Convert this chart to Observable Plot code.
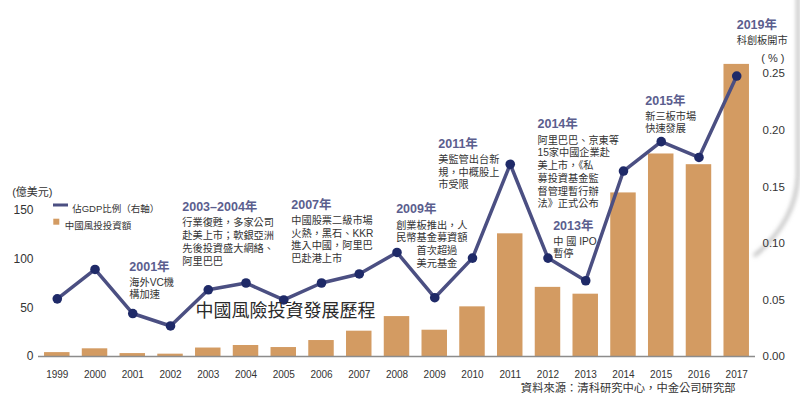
<!DOCTYPE html>
<html><head><meta charset="utf-8">
<script src="https://cdn.jsdelivr.net/npm/d3@7"></script>
<script src="https://cdn.jsdelivr.net/npm/@observablehq/plot@0.6"></script>
<style>
html,body{margin:0;padding:0;background:#fff;}
#chart{width:800px;height:406px;overflow:hidden;}
</style></head><body><div id="chart"></div>
<script>
// ---- data ----
const years = ["1999","2000","2001","2002","2003","2004","2005","2006","2007","2008","2009","2010","2011","2012","2013","2014","2015","2016","2017"];
const investment = [4, 7.9, 3, 2.4, 8.7, 11.3, 9.2, 16.4, 26, 41, 27, 51, 126, 71, 64, 168, 208, 197, 300]; // 億美元
const gdpShare = [0.051, 0.077, 0.038, 0.027, 0.059, 0.065, 0.050, 0.065, 0.073, 0.092, 0.052, 0.087, 0.170, 0.087, 0.067, 0.164, 0.190, 0.176, 0.248]; // %
const leftTicks = [0, 50, 100, 150];
const rightTicks = [0, 0.05, 0.10, 0.15, 0.20, 0.25];

const noteYears = ["2001","2003","2007","2009","2011","2014","2013","2015","2017"];
const noteTitles = ["2001年","2003–2004年","2007年","2009年","2011年","2014年","2013年","2015年","2019年"];
const noteBodies = [
  "海外VC機\n構加速",
  "行業復甦，多家公司\n赴美上市；軟銀亞洲\n先後投資盛大網絡、\n阿里巴巴",
  "中國股票二級市場\n火熱，黑石、KKR\n進入中國，阿里巴\n巴赴港上市",
  "創業板推出，人\n民幣基金募資額\n　　首次超過\n　　美元基金",
  "美監管出台新\n規，中概股上\n市受限",
  "阿里巴巴、京東等\n15家中國企業赴\n美上市，《私\n募投資基金監\n督管理暫行辦\n法》正式公布",
  "中 國 IPO\n暫停",
  "新三板市場\n快速發展",
  "科創板開市"
];
// note anchor heights, in 億美元 (left-axis units)
const noteLevels = [92.4, 153.3, 155.8, 151, 218.4, 238.3, 134.5, 262.9, 340];

const chartTitle = "中國風險投資發展歷程";
const legendLine = "佔GDP比例（右軸）";
const legendBar = "中國風投投資額";
const leftUnit = "(億美元)";
const rightUnit = "( % )";
const source = "資料來源：清科研究中心，中金公司研究部";

// ---- layout / style ----
const LEFT_MAX = 304, RIGHT_MAX = 0.26176, K = LEFT_MAX / RIGHT_MAX;
const noteShift = [-3.5, -26, -68, -38.6, -72, -86, -32.6, -16, 0];
const barColor = "#d39b62", lineColor = "#4b4f82", dotColor = "#1f2a68", titleColor = "#5b5e8e", ink = "#333";
const FONT = "'Liberation Sans', 'Noto Sans CJK TC', sans-serif";

const idx = years.map((_, i) => i);

const noteMarks = noteYears.flatMap((yr, i) => [
  Plot.text([i], {x: () => yr, y: () => noteLevels[i], text: () => noteTitles[i], dx: noteShift[i],
    textAnchor: "start", lineAnchor: "middle", fontSize: 12.5, fontWeight: "bold", fill: titleColor}),
  Plot.text([i], {x: () => yr, y: () => noteLevels[i], text: () => noteBodies[i], dx: noteShift[i], dy: 10,
    textAnchor: "start", lineAnchor: "top", fontSize: 10.2, lineHeight: 1.25, fill: ink})
]);

const legend = (index, scales, values, dims) => {
  const g = d3.create("svg:g");
  const x0 = dims.marginLeft, y0 = dims.marginTop;
  g.append("line").attr("x1", x0 + 15).attr("x2", x0 + 30).attr("y1", y0 + 145).attr("y2", y0 + 145)
    .attr("stroke", lineColor).attr("stroke-width", 3);
  g.append("rect").attr("x", x0 + 15.3).attr("y", y0 + 158.7).attr("width", 6).attr("height", 6).attr("fill", barColor);
  return g.node();
};

// decorative page-curl shadow on the right edge
const curl = (index, scales, values, dims) => {
  const g = d3.create("svg:g");
  const W = dims.width;
  const defs = g.append("defs");
  defs.append("filter").attr("id", "blurcurl").attr("x", "-50%").attr("y", "-50%").attr("width", "200%").attr("height", "200%")
    .append("feGaussianBlur").attr("stdDeviation", 2.2);
  g.append("path")
    .attr("d", `M${W - 2},-5 L${W - 2},175 Q${W - 4},222 ${W - 46},256`)
    .attr("fill", "none").attr("stroke", "#b5b5b5").attr("stroke-width", 3).attr("filter", "url(#blurcurl)");
  return g.node();
};

const chart = Plot.plot({
  width: 800, height: 406,
  marginLeft: 38, marginRight: 45, marginTop: 60, marginBottom: 50,
  style: {fontFamily: FONT, fontSize: "10px", color: ink, background: "#fff", overflow: "visible"},
  x: {type: "band", domain: years, paddingInner: 0.325, paddingOuter: 0.16, round: false, axis: null},
  y: {domain: [0, LEFT_MAX], axis: null},
  marks: [
    curl,
    Plot.barY(idx, {x: i => years[i], y: i => investment[i], fill: barColor}),
    Plot.ruleY([0], {stroke: "#8c8c8c", strokeWidth: 1.5}),
    Plot.line(idx, {x: i => years[i], y: i => gdpShare[i] * K, stroke: lineColor, strokeWidth: 3.5, strokeLinejoin: "round"}),
    Plot.dot(idx, {x: i => years[i], y: i => gdpShare[i] * K, r: 4.8, fill: dotColor}),
    Plot.axisX({tickSize: 0, tickPadding: 14, fontSize: 10, label: null}),
    Plot.axisY(leftTicks, {anchor: "left", tickSize: 0, tickPadding: 5, fontSize: 12, label: null}),
    Plot.axisY(rightTicks.map(t => t * K), {anchor: "right", tickSize: 0, tickPadding: 7, fontSize: 11.5, label: null,
      tickFormat: d => (d / K).toFixed(2)}),
    ...noteMarks,
    Plot.text([chartTitle], {frameAnchor: "bottom-left", dx: 157, dy: -39.3, textAnchor: "start", fontSize: 18, fill: "#2a2a2a"}),
    Plot.text([leftUnit], {frameAnchor: "top-left", dx: -26.3, dy: 128, textAnchor: "start", fontSize: 11, fill: ink}),
    Plot.text([rightUnit], {frameAnchor: "top-right", dx: 5.7, dy: -6.7, textAnchor: "start", fontSize: 11, fill: ink}),
    Plot.text([source], {frameAnchor: "bottom-right", dx: -20, dy: 35.7, textAnchor: "end", fontSize: 11.3, fill: ink}),
    Plot.text([legendLine], {frameAnchor: "top-left", dx: 33.7, dy: 145, textAnchor: "start", fontSize: 9.5, fill: ink}),
    Plot.text([legendBar], {frameAnchor: "top-left", dx: 26.3, dy: 161.7, textAnchor: "start", fontSize: 9.5, fill: ink}),
    legend
  ]
});
document.getElementById("chart").appendChild(chart);
</script></body></html>
